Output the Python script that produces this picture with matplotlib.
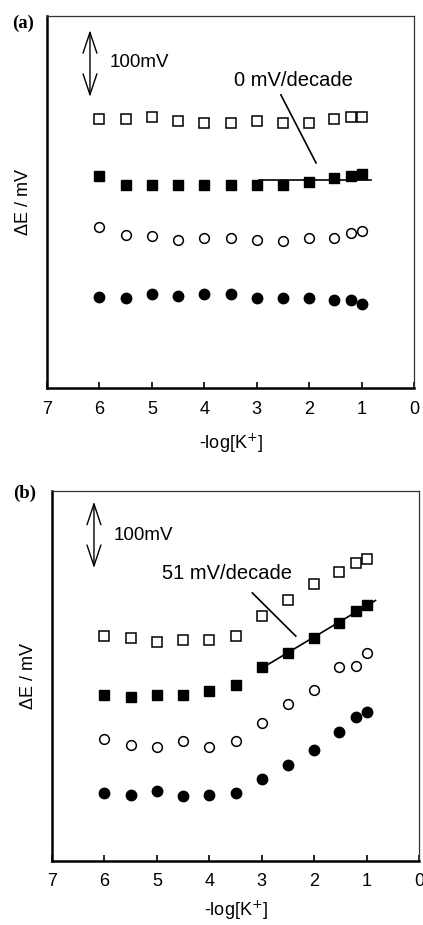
import numpy as np
from matplotlib import pyplot as plt

plt.rcParams['font.family'] = ['Liberation Sans', 'DejaVu Sans']

# -log[K+] concentrations (same for all series)
log_k = [6.0, 5.5, 5.0, 4.5, 4.0, 3.5, 3.0, 2.5, 2.0, 1.52, 1.2, 1.0]

# (a) potential shifts, mV
a_open_sq = [399, 399, 401.5, 395.6, 392.6, 392.6, 395.6, 392.6, 392.6, 398.5, 401.5, 401.5]
a_fill_sq = [314.3, 301.5, 301.5, 301.5, 301.5, 301.5, 301.5, 301.5, 306.4, 311.3, 315.3, 317.7]
a_open_ci = [238.9, 227.6, 225.1, 220.2, 222.7, 222.7, 220.2, 217.7, 222.7, 222.7, 230.5, 233.0]
a_fill_ci = [135.5, 133.0, 138.9, 136.5, 138.9, 138.9, 134.0, 133.0, 133.0, 130.5, 130.5, 124.6]

# (b) potential shifts, mV
b_open_sq = [335, 332.5, 326.5, 329, 329, 335, 365.5, 390, 412.5, 431.5, 445, 450.5]
b_fill_sq = [247.5, 245, 247.5, 247.5, 253, 263, 289, 310.5, 332.5, 355, 373, 381.5]
b_open_ci = [181.5, 173, 170.5, 179, 170.5, 179, 206.5, 234, 255.5, 289, 291.5, 310.5]
b_fill_ci = [101.5, 99, 104, 96.5, 99, 101.5, 123, 143, 165, 192.5, 215, 222.5]

# fitted lines over the high-concentration range
a_fit_level = 308.0
b_fit_x = [3.07, 0.83]


def draw_panel(ax, open_sq, fill_sq, open_ci, fill_ci, xlabelpad=10):
    x = np.array(log_k)
    ax.plot(x, open_sq, 's', ms=6.8, mfc='white', mec='black', mew=1.1, ls='none')
    ax.plot(x, fill_sq, 's', ms=7.2, color='black', ls='none')
    ax.plot(x, open_ci, 'o', ms=7.0, mfc='white', mec='black', mew=1.1, ls='none')
    ax.plot(x, fill_ci, 'o', ms=7.5, color='black', ls='none')

    ax.set_xlim(7, 0)
    ax.set_ylim(0, 552)
    ax.set_xticks(range(8))
    ax.set_yticks([])
    ax.tick_params(axis='x', direction='in', length=4, width=1.2, labelsize=13, pad=9)
    ax.set_xlabel('-log[K$^{+}$]', fontsize=13, labelpad=xlabelpad)
    ax.set_ylabel('\u0394E / mV', fontsize=13, labelpad=11)
    for side in ('left', 'bottom'):
        ax.spines[side].set_linewidth(1.8)
    for side in ('top', 'right'):
        ax.spines[side].set_linewidth(0.9)
        ax.spines[side].set_color('#333333')


def scale_bar(ax, xpos, y0, y1, tx, ty):
    ax.annotate('', xy=(xpos, y1), xytext=(xpos, y0),
                arrowprops=dict(arrowstyle='<->,head_length=1.5,head_width=0.5',
                                lw=1.0, color='black', shrinkA=0, shrinkB=0))
    ax.text(tx, ty, '100mV', fontsize=13.5, va='center', ha='left')


fig = plt.figure(figsize=(4.23, 9.25), dpi=100)
ax_a = fig.add_axes([0.111, 0.5805, 0.868, 0.4022])
ax_b = fig.add_axes([0.123, 0.0692, 0.8675, 0.4000])

# panel (a)
draw_panel(ax_a, a_open_sq, a_fill_sq, a_open_ci, a_fill_ci)
ax_a.plot([2.95, 0.82], [a_fit_level, a_fit_level], color='black', lw=1.2)
ax_a.plot([2.54, 1.87], [435, 334], color='black', lw=1.2)
ax_a.text(2.3, 457, '0 mV/decade', fontsize=14.5, ha='center', va='center')
scale_bar(ax_a, 6.18, 432, 531, 5.8, 483)

# panel (b): linear fit of filled squares for -log[K+] <= 3
bx = np.array(log_k)
by = np.array(b_fill_sq)
sel = bx <= 3.0
slope, icpt = np.polyfit(bx[sel], by[sel], 1)
fx = np.array(b_fit_x)
draw_panel(ax_b, b_open_sq, b_fill_sq, b_open_ci, b_fill_ci, xlabelpad=6)
ax_b.plot(fx, slope * fx + icpt, color='black', lw=1.2)
ax_b.plot([3.18, 2.35], [400, 335.5], color='black', lw=1.2)
ax_b.text(3.67, 429, '51 mV/decade', fontsize=14.5, ha='center', va='center')
scale_bar(ax_b, 6.2, 437, 536, 5.82, 486)

fig.text(23 / 423, 1 - 23 / 925, '(a)', family='Liberation Serif', weight='bold',
         fontsize=13.5, ha='center', va='center')
fig.text(25 / 423, 1 - 493 / 925, '(b)', family='Liberation Serif', weight='bold',
         fontsize=13.5, ha='center', va='center')

plt.savefig('out.png', dpi=100)
